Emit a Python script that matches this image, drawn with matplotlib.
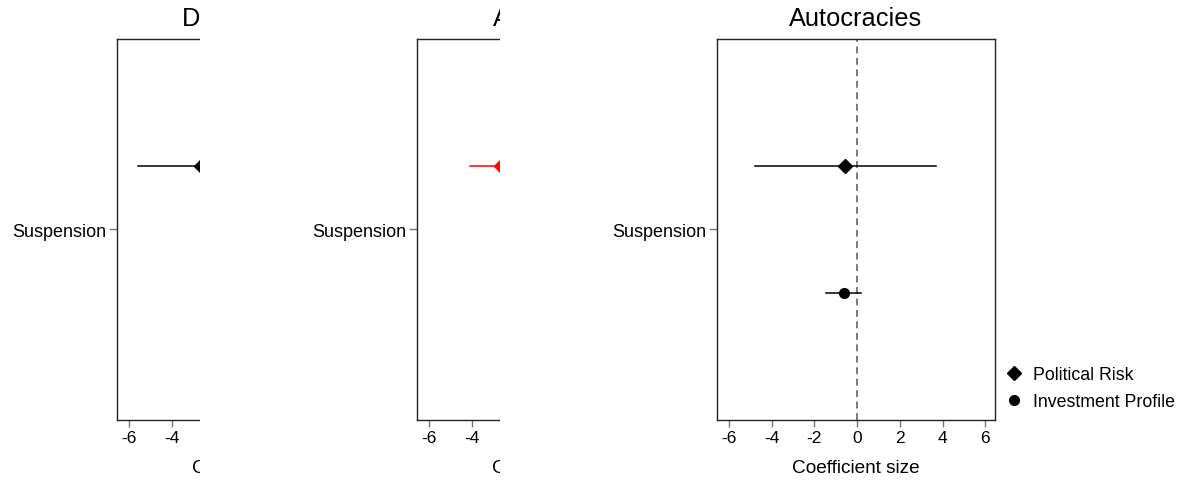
import matplotlib
matplotlib.use("Agg")
import matplotlib.pyplot as plt
from matplotlib.lines import Line2D
from matplotlib.patches import Rectangle

plt.rcParams['font.family'] = ['Liberation Sans', 'DejaVu Sans']

# ---- data ----
panel_titles = ["Democracies", "Anocracies", "Autocracies"]
category = ["Suspension"]
series_names = ["Political Risk", "Investment Profile"]
# Political Risk (diamond): estimate, ci low, ci high per panel
pr_est = [-2.6, -2.6, -0.56]
pr_lo = [-5.58, -4.05, -4.75]
pr_hi = [0.4, 0.8, 3.68]
# Investment Profile (circle) only readable in the last panel
ip_est = [None, None, -0.62]
ip_lo = [None, None, -1.43]
ip_hi = [None, None, 0.19]
panel_colors = ["black", "red", "black"]
xticks = [-6, -4, -2, 0, 2, 4, 6]

W, H = 1180, 481
fig = plt.figure(figsize=(W / 100, H / 100), dpi=100)
fig.patch.set_facecolor("white")

lefts = [117, 417, 717]
ax_w = 278
ax_top, ax_bot = 39.5, 421
covers = [200, 500]

offsets = [0.5, -0.5]
for i in range(3):
    ax = fig.add_axes([lefts[i] / W, (H - ax_bot) / H, ax_w / W, (ax_bot - ax_top) / H])
    ax.set_zorder(2 * i)
    col = panel_colors[i]
    ax.axvline(0, color="#555555", lw=1.1, ls=(0, (4.5, 3)), zorder=1)
    ax.plot([pr_lo[i], pr_hi[i]], [offsets[0]] * 2, color=col, lw=1.1, zorder=2)
    ax.plot([pr_est[i]], [offsets[0]], marker="D", ms=7.3, color=col, ls="none", zorder=3)
    if ip_est[i] is not None:
        ax.plot([ip_lo[i], ip_hi[i]], [offsets[1]] * 2, color=col, lw=1.1, zorder=2)
        ax.plot([ip_est[i]], [offsets[1]], marker="o", ms=7.0, color=col, ls="none", zorder=3)
    ax.set_xlim(-6.55, 6.45)
    ax.set_ylim(-1.5, 1.5)
    ax.set_xticks(xticks)
    ax.set_xticklabels([str(t) for t in xticks])
    ax.set_yticks([0])
    ax.set_yticklabels(category)
    ax.tick_params(axis="x", length=5, width=1.0, color="#777777", labelsize=12.5, pad=2.5)
    ax.tick_params(axis="y", length=5.5, width=1.0, color="#777777", labelsize=13, pad=2)
    for s in ax.spines.values():
        s.set_linewidth(1.0)
        s.set_color("#222222")
    ax.set_title(panel_titles[i], fontsize=18.3, pad=10)
    ax.set_xlabel("Coefficient size", fontsize=13.7, labelpad=10)

    if i < 2:
        r = Rectangle((covers[i] / W, 0), 1, 1, transform=fig.transFigure,
                      facecolor="white", edgecolor="none", zorder=2 * i + 1)
        fig.add_artist(r)

handles = [Line2D([], [], marker="D", ms=7.3, color="black", ls="none"),
           Line2D([], [], marker="o", ms=7.0, color="black", ls="none")]
leg = fig.legend(handles, series_names, loc="upper left", bbox_to_anchor=(1005 / W, (H - 367) / H),
                 frameon=False, fontsize=12.8, handlelength=1.0, handletextpad=0.6,
                 labelspacing=0.55, borderaxespad=0, borderpad=0)
leg.set_zorder(10)

fig.savefig("out.png", dpi=100, facecolor="white")
